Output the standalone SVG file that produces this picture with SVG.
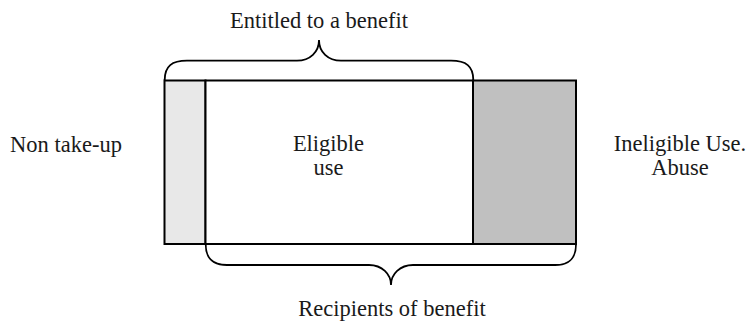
<svg xmlns="http://www.w3.org/2000/svg" width="752" height="322" viewBox="0 0 752 322">
<style>
.t{font-family:"Liberation Serif","Times New Roman",serif;font-size:22.5px;fill:#1a1a1a;text-anchor:middle}
.box{stroke:#000;stroke-width:2}
.brace{fill:none;stroke:#000;stroke-width:1.8}
</style>
<rect width="752" height="322" fill="#fff"/>
<g id="nontakeup-area">
<rect class="box" x="164.5" y="80.5" width="41" height="163.5" fill="#e8e8e8"/>
</g>
<g id="eligible-use">
<rect class="box" x="205.5" y="80.5" width="267.5" height="163.5" fill="#fff"/>
<text class="t" x="328.5" y="151">Eligible</text>
<text class="t" x="328.5" y="175">use</text>
</g>
<g id="abuse-area">
<rect class="box" x="473" y="80.5" width="103" height="163.5" fill="#c0c0c0"/>
</g>
<g id="non-take-up">
<text class="t" x="66" y="152">Non take-up</text>
</g>
<g id="ineligible">
<text class="t" x="680" y="151">Ineligible Use.</text>
<text class="t" x="680" y="175">Abuse</text>
</g>
<g id="connectors">
<path id="brace-entitled" class="brace" d="M164.7,80 C164.7,66 172,60.7 187,60.7 L297,60.7 C310,60.7 319,52 319,40 C319,52 328,60.7 341,60.7 L451,60.7 C466,60.7 473.3,66 473.3,80"/>
<path id="brace-recipients" class="brace" d="M205.7,244 C205.7,258 212,265 227,265 L369,265 C382,265 391,274 391,285 C391,274 400,265 413,265 L555,265 C570,265 576,258 576,244"/>
</g>
<g id="label-entitled">
<text class="t" x="319" y="27.5">Entitled to a benefit</text>
</g>
<g id="label-recipients">
<text class="t" x="392" y="316">Recipients of benefit</text>
</g>
</svg>
